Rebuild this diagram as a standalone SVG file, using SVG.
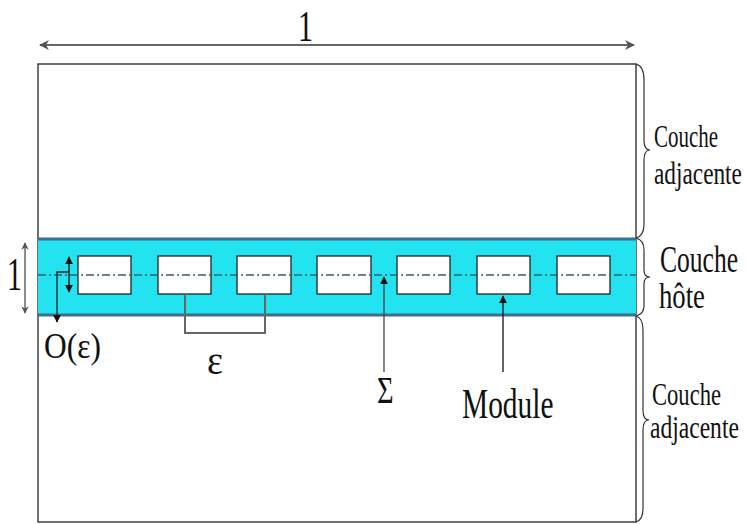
<svg xmlns="http://www.w3.org/2000/svg" width="746" height="524" viewBox="0 0 746 524">
<style>
text{font-family:"Liberation Serif","Times New Roman",serif;fill:#111}
.mod{fill:#fff;stroke:#222;stroke-width:1.3}
.gray{stroke:#666;stroke-width:2;fill:none}
.blk{stroke:#222;stroke-width:1.3;fill:none}
.brace{stroke:#333;stroke-width:1.2;fill:none}
</style>
<defs>
<marker id="ag" viewBox="0 0 10 10" refX="9" refY="5" markerWidth="5" markerHeight="5" orient="auto-start-reverse"><path d="M0,0 L10,5 L0,10 L3,5 z" fill="#555"/></marker>
<marker id="ab" viewBox="0 0 10 10" refX="9" refY="5" markerWidth="6" markerHeight="6" orient="auto-start-reverse"><path d="M0,0 L10,5 L0,10 z" fill="#111"/></marker>
</defs>
<rect width="746" height="524" fill="#fff"/>
<g id="outer"><rect x="38" y="64" width="598" height="458" fill="#fff" stroke="#222" stroke-width="1.3"/></g>
<g id="host">
<rect x="38" y="238" width="598" height="78" fill="#22e3ef"/>
<line x1="38" y1="239" x2="636" y2="239" stroke="#3f6f90" stroke-width="3"/>
<line x1="38" y1="315" x2="636" y2="315" stroke="#3f6f90" stroke-width="3"/>
</g>
<g id="modules">
<rect class="mod" x="78" y="256" width="53" height="38"/>
<rect class="mod" x="158" y="256" width="53" height="38"/>
<rect class="mod" x="237" y="256" width="54" height="38"/>
<rect class="mod" x="317" y="256" width="54" height="38"/>
<rect class="mod" x="397" y="256" width="53" height="38"/>
<rect class="mod" x="477" y="256" width="53" height="38"/>
<rect class="mod" x="557" y="256" width="53" height="38"/>
</g>
<g id="connectors">
<line x1="38" y1="275" x2="636" y2="275" stroke="#2f6070" stroke-width="1.5" stroke-dasharray="8,3,2,3"/>
<line x1="40" y1="45" x2="634" y2="45" stroke="#666" stroke-width="2" marker-start="url(#ag)" marker-end="url(#ag)"/>
<line x1="25" y1="243" x2="25" y2="313" stroke="#666" stroke-width="1.5" marker-start="url(#ag)" marker-end="url(#ag)"/>
<line x1="69" y1="257" x2="69" y2="292" stroke="#111" stroke-width="1.3" marker-start="url(#ab)" marker-end="url(#ab)"/>
<polyline class="blk" points="69,272 57,272 57,322" marker-end="url(#ab)"/>
<polyline class="gray" points="185,294 185,333 265,333 265,294"/>
<line x1="384" y1="372" x2="384" y2="277" stroke="#444" stroke-width="1.3" marker-end="url(#ab)"/>
<line x1="503" y1="372" x2="503" y2="296" stroke="#111" stroke-width="1.3" marker-end="url(#ab)"/>
<path class="brace" d="M636,64 Q644,66 644,80 L644,140 Q644,150 650,150 Q644,150 644,160 L644,224 Q644,236 636,238"/>
<path class="brace" d="M636,238 Q644,240 644,250 L644,270 Q644,277 650,277 Q644,277 644,284 L644,306 Q644,314 636,316"/>
<path class="brace" d="M636,316 Q643,318 643,330 L643,410 Q643,420 649,420 Q643,420 643,430 L643,508 Q643,520 636,522"/>
</g>
<g id="labels">
<text transform="translate(298,41) scale(0.68,1)" font-size="44">1</text>
<text transform="translate(7,290) scale(0.65,1)" font-size="46">1</text>
<text transform="translate(44,358) scale(0.9,1)" font-size="35">O(ε)</text>
<text transform="translate(207,374) scale(0.95,1)" font-size="40">ε</text>
<text transform="translate(377,403) scale(0.75,1)" font-size="38">Σ</text>
<text transform="translate(462,418) scale(0.7,1)" font-size="42">Module</text>
<text transform="translate(654,147) scale(0.676,1)" font-size="31">Couche</text>
<text transform="translate(654,184) scale(0.752,1)" font-size="31">adjacente</text>
<text transform="translate(660,272) scale(0.672,1)" font-size="38">Couche</text>
<text transform="translate(659,308) scale(0.742,1)" font-size="36">hôte</text>
<text transform="translate(652,405) scale(0.729,1)" font-size="31">Couche</text>
<text transform="translate(650,438) scale(0.76,1)" font-size="31">adjacente</text>
</g>
</svg>
